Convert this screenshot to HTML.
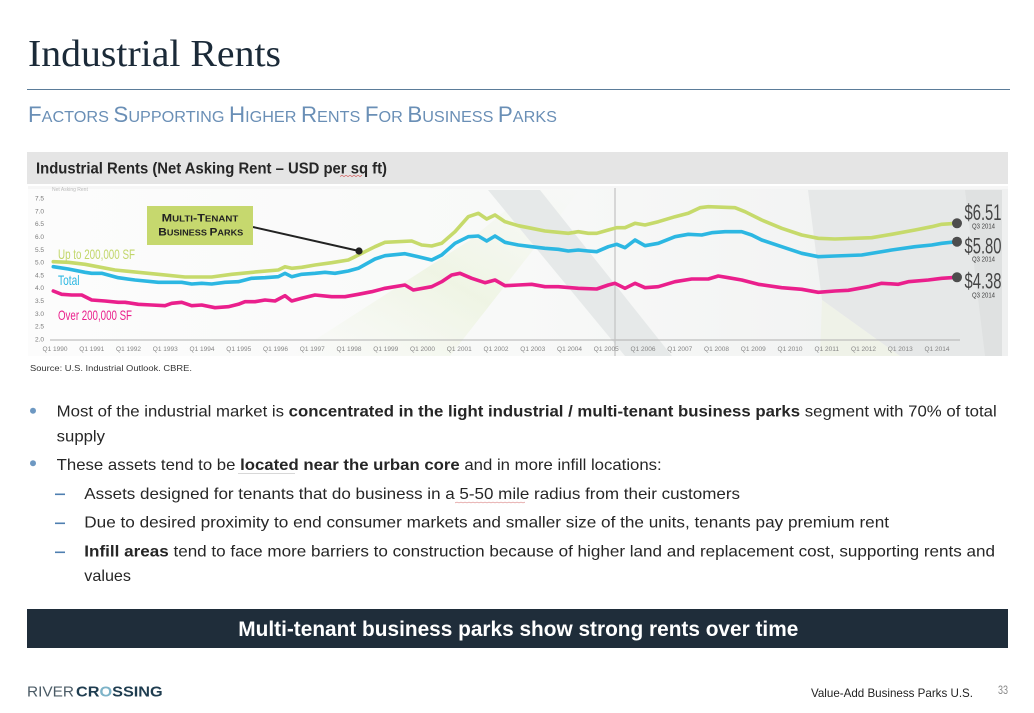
<!DOCTYPE html>
<html>
<head>
<meta charset="utf-8">
<style>
html,body{margin:0;padding:0;background:#fff;}
body{width:1034px;height:713px;overflow:hidden;}
svg{display:block;}
text{font-family:"Liberation Sans",sans-serif;}
.serif{font-family:"Liberation Serif",serif;}
.narrow{font-family:"Liberation Sans Narrow","Liberation Sans",sans-serif;}
</style>
</head>
<body>
<svg width="1034" height="713" viewBox="0 0 1034 713" xmlns="http://www.w3.org/2000/svg">
  <defs>
    <linearGradient id="bgL" x1="0" y1="0" x2="1" y2="0">
      <stop offset="0" stop-color="#fcfcfc"/>
      <stop offset="0.5" stop-color="#f8f9f8"/>
      <stop offset="1" stop-color="#eff0f0"/>
    </linearGradient>
    <linearGradient id="grn" x1="0" y1="1" x2="1" y2="0">
      <stop offset="0" stop-color="#f2f6ea" stop-opacity="0"/>
      <stop offset="0.5" stop-color="#eef4e2" stop-opacity="0.9"/>
      <stop offset="1" stop-color="#f2f6ea" stop-opacity="0"/>
    </linearGradient>
  </defs>

  <!-- Title -->
  <text class="serif" x="28" y="66" font-size="38" fill="#1b2a38" textLength="253" lengthAdjust="spacingAndGlyphs">Industrial Rents</text>
  <line x1="27" y1="89.5" x2="1010" y2="89.5" stroke="#5b7c99" stroke-width="1"/>

  <!-- Subtitle small caps -->
  <text x="28" y="122" fill="#6a8fb6" textLength="529" lengthAdjust="spacingAndGlyphs"><tspan font-size="22">F</tspan><tspan font-size="16">ACTORS </tspan><tspan font-size="22">S</tspan><tspan font-size="16">UPPORTING </tspan><tspan font-size="22">H</tspan><tspan font-size="16">IGHER </tspan><tspan font-size="22">R</tspan><tspan font-size="16">ENTS </tspan><tspan font-size="22">F</tspan><tspan font-size="16">OR </tspan><tspan font-size="22">B</tspan><tspan font-size="16">USINESS </tspan><tspan font-size="22">P</tspan><tspan font-size="16">ARKS</tspan></text>

  <!-- Grey header bar -->
  <rect x="27" y="152" width="981" height="32" fill="#e5e5e5"/>
  <text x="36" y="173.3" font-size="16" font-weight="bold" fill="#262626" textLength="351" lengthAdjust="spacingAndGlyphs">Industrial Rents (Net Asking Rent – USD per sq ft)</text>
  <path d="M340 176.5 l2 -1.2 l2 1.2 l2 -1.2 l2 1.2 l2 -1.2 l2 1.2 l2 -1.2 l2 1.2 l2 -1.2 l2 1.2 l2 -1.2" stroke="#d04040" stroke-width="0.6" fill="none"/>

  <!-- Chart background -->
  <rect x="28" y="186" width="980" height="170" fill="url(#bgL)"/>
  <polygon points="290,356 470,240 530,190 580,190 450,356" fill="url(#grn)"/>
  <polygon points="488,190 540,190 672,356 625,356" fill="#e6e9e9"/>
  <polygon points="808,190 1002,190 1002,356 900,356 822,300" fill="#e6e8e8"/>
  <polygon points="822,300 900,356 820,356" fill="#eff2e8"/>
  <polygon points="965,190 1002,190 1002,356 985,356" fill="#dfe1e1"/>
  <rect x="28" y="186" width="980" height="3" fill="#f6f6f6"/>

  <!-- faint cut title -->
  <text x="52" y="191" font-size="5" fill="#bbb">Net Asking Rent</text>

  <!-- Axis -->
  <line x1="50" y1="340" x2="960" y2="340" stroke="#b0b0b0" stroke-width="1"/>
  <line x1="615" y1="188" x2="615" y2="356" stroke="#c2c2c2" stroke-width="1.2"/>

  <!-- Y labels -->
  <g class="narrow" font-size="6.5" fill="#7a7a7a">
    <text x="35" y="200.5">7.5</text>
    <text x="35" y="213.3">7.0</text>
    <text x="35" y="226.1">6.5</text>
    <text x="35" y="238.9">6.0</text>
    <text x="35" y="251.8">5.5</text>
    <text x="35" y="264.6">5.0</text>
    <text x="35" y="277.4">4.5</text>
    <text x="35" y="290.2">4.0</text>
    <text x="35" y="303.0">3.5</text>
    <text x="35" y="315.8">3.0</text>
    <text x="35" y="328.7">2.5</text>
    <text x="35" y="341.5">2.0</text>
  </g>

  <!-- X labels -->
  <g class="narrow" font-size="6.5" fill="#858585" text-anchor="middle">
    <text x="55" y="351">Q1 1990</text>
    <text x="91.75" y="351">Q1 1991</text>
    <text x="128.5" y="351">Q1 1992</text>
    <text x="165.25" y="351">Q1 1993</text>
    <text x="202" y="351">Q1 1994</text>
    <text x="238.75" y="351">Q1 1995</text>
    <text x="275.5" y="351">Q1 1996</text>
    <text x="312.25" y="351">Q1 1997</text>
    <text x="349" y="351">Q1 1998</text>
    <text x="385.75" y="351">Q1 1999</text>
    <text x="422.5" y="351">Q1 2000</text>
    <text x="459.25" y="351">Q1 2001</text>
    <text x="496" y="351">Q1 2002</text>
    <text x="532.75" y="351">Q1 2003</text>
    <text x="569.5" y="351">Q1 2004</text>
    <text x="606.25" y="351">Q1 2005</text>
    <text x="643" y="351">Q1 2006</text>
    <text x="679.75" y="351">Q1 2007</text>
    <text x="716.5" y="351">Q1 2008</text>
    <text x="753.25" y="351">Q1 2009</text>
    <text x="790" y="351">Q1 2010</text>
    <text x="826.75" y="351">Q1 2011</text>
    <text x="863.5" y="351">Q1 2012</text>
    <text x="900.25" y="351">Q1 2013</text>
    <text x="937" y="351">Q1 2014</text>
  </g>

  <!-- Series -->
  <g fill="none" stroke-width="3.6" stroke-linejoin="round" stroke-linecap="round">
    <polyline stroke="#c6da6b" points="53.3,261.7 68.3,262.3 85,264.3 115,270 158.3,274.3 185,277 211.7,277 231.7,274.3 258.3,271.7 278.3,270 285,266.7 291.7,268.3 301.7,267.3 315,265 331.7,262.7 348.3,260 355,256.7 358.3,255 375,246.7 385,242.3 411.7,241 421.7,245 431.7,246 441.7,243.3 455,231.7 468.3,216.7 478.3,213.3 486.7,219 495,215 505,221.7 518.3,225.7 531.7,228.3 545,231 558.3,232.3 568.3,233.3 578.3,231.7 588.3,233.3 596.7,233.3 608.3,230 616.7,227.7 625,227.7 635,223.3 645,225 658.3,221.7 675,216.7 688.3,213.3 700,207.7 708.3,206.7 735,207.7 745,211.7 761.7,220 781.7,228.3 801.7,235 818.3,238.3 835,239 871.7,237.7 891.7,234.3 915,230 931.7,226.7 941.7,224.3 956.7,223.3"/>
    <polyline stroke="#2cb7e2" points="53.3,266.7 68.3,269 85,272.3 91.7,273.3 101.7,273.3 118.3,277.7 135,280 158.3,282.3 181.7,282.3 191.7,284 201.7,283.3 211.7,284 225,282.3 238.3,281.7 251.7,278.3 265,277.7 278.3,276.7 285,273.3 291.7,276.7 301.7,274.3 315,273.3 325,272.3 335,273.3 348.3,271 358.3,268.3 375,259 385,255.7 405,253.7 418.3,256.7 431.7,260 441.7,255 455,243.3 468.3,236.7 478.3,236 486.7,241 495,236 505,242.3 518.3,245 531.7,246.7 545,248.3 558.3,249.3 568.3,251 578.3,250 588.3,251 596.7,251.7 608.3,246.7 616.7,244.3 625,247.7 635,240 645,245.7 658.3,243.3 675,236.7 688.3,234.3 701.7,235 711.7,232.7 725,231.7 741.7,231.7 751.7,235 761.7,240 781.7,246.7 801.7,253.3 818.3,256.7 835,256 861.7,255 891.7,250 915,246.7 931.7,245 941.7,243.3 956.7,241.7"/>
    <polyline stroke="#ea1f8c" points="53.3,291 61.7,294.3 71.7,295 81.7,295 91.7,300 105,301 118.3,302.3 125,302.3 138.3,304.3 151.7,305 165,305.7 171.7,303.3 181.7,302.3 191.7,305.7 201.7,305 215,307.7 228.3,306.7 238.3,304.3 245,301.7 255,301.7 265,300 275,301 285,295.7 291.7,301 301.7,298.3 315,295 331.7,296.7 345,296.7 358.3,294.3 371.7,291.7 385,288.3 405,285 413.3,290 431.7,286.7 441.7,281.7 451.7,275 460,273.3 471.7,278.3 485,282.7 495,280 505,285.7 518.3,285 531.7,284.3 545,286.7 558.3,286.7 578.3,288.3 596.7,289 608.3,285 615,283.3 625,288.3 635,283.3 645,287.7 658.3,286.7 675,281.7 691.7,279 708.3,279 718.3,276 728.3,277.7 741.7,280 758.3,284.3 781.7,287.7 801.7,289.3 818.3,292.3 835,291 848.3,290.3 868.3,286.7 881.7,283.3 898.3,284.3 908.3,281.7 928.3,280 941.7,278.3 956.7,277.3"/>
  </g>

  <!-- Series labels -->
  <text class="narrow" x="58" y="259" font-size="14" fill="#c2d66a" textLength="77" lengthAdjust="spacingAndGlyphs">Up to 200,000 SF</text>
  <text class="narrow" x="58" y="285" font-size="14" fill="#2cb7e2" textLength="21.5" lengthAdjust="spacingAndGlyphs">Total</text>
  <text class="narrow" x="58" y="320" font-size="14" fill="#ea1f8c" textLength="74" lengthAdjust="spacingAndGlyphs">Over 200,000 SF</text>

  <!-- Callout -->
  <line x1="253" y1="227" x2="359" y2="251" stroke="#222" stroke-width="2"/>
  <circle cx="359" cy="251" r="3.6" fill="#222"/>
  <rect x="147" y="206" width="106" height="39" fill="#c6d86e"/>
  <text x="161.7" y="221.7" font-weight="bold" fill="#222" textLength="76.6" lengthAdjust="spacingAndGlyphs"><tspan font-size="11">M</tspan><tspan font-size="8.5">ULTI</tspan><tspan font-size="11">-T</tspan><tspan font-size="8.5">ENANT</tspan></text>
  <text x="158.3" y="235.7" font-weight="bold" fill="#222" textLength="85" lengthAdjust="spacingAndGlyphs"><tspan font-size="11">B</tspan><tspan font-size="8.5">USINESS </tspan><tspan font-size="11">P</tspan><tspan font-size="8.5">ARKS</tspan></text>

  <!-- End dots and values -->
  <circle cx="957" cy="223.3" r="5" fill="#4d4d4d"/>
  <circle cx="957" cy="241.7" r="5" fill="#4d4d4d"/>
  <circle cx="957" cy="277.3" r="5" fill="#4d4d4d"/>
  <g class="narrow" fill="#444">
    <text x="964.5" y="220" font-size="22" textLength="37" lengthAdjust="spacingAndGlyphs">$6.51</text>
    <text x="972" y="228.5" font-size="7" textLength="23" lengthAdjust="spacingAndGlyphs">Q3 2014</text>
    <text x="964.5" y="253.5" font-size="22" textLength="37" lengthAdjust="spacingAndGlyphs">$5.80</text>
    <text x="972" y="261.5" font-size="7" textLength="23" lengthAdjust="spacingAndGlyphs">Q3 2014</text>
    <text x="964.5" y="288.5" font-size="22" textLength="37" lengthAdjust="spacingAndGlyphs">$4.38</text>
    <text x="972" y="297.5" font-size="7" textLength="23" lengthAdjust="spacingAndGlyphs">Q3 2014</text>
  </g>

  <!-- Source -->
  <text x="30" y="371" font-size="8" fill="#333" textLength="162" lengthAdjust="spacingAndGlyphs">Source: U.S. Industrial Outlook. CBRE.</text>

  <!-- Bullets -->
  <g fill="#262626" font-size="16">
    <circle cx="33" cy="410.7" r="3" fill="#6d98c2"/>
    <text x="56.7" y="416.7" textLength="940" lengthAdjust="spacingAndGlyphs">Most of the industrial market is <tspan font-weight="bold">concentrated in the light industrial / multi-tenant business parks</tspan> segment with 70% of total</text>
    <text x="56.7" y="441.7" textLength="48.3" lengthAdjust="spacingAndGlyphs">supply</text>

    <circle cx="33" cy="463.3" r="3" fill="#6d98c2"/>
    <text x="56.7" y="470" textLength="605" lengthAdjust="spacingAndGlyphs">These assets tend to be <tspan font-weight="bold">located near the urban core</tspan> and in more infill locations:</text>
    <line x1="238.5" y1="473.5" x2="295" y2="473.5" stroke="#999" stroke-width="0.7" stroke-dasharray="1,1"/>

    <line x1="55" y1="494.3" x2="65" y2="494.3" stroke="#4e7fb0" stroke-width="1.6"/>
    <text x="84.3" y="499" textLength="655.7" lengthAdjust="spacingAndGlyphs">Assets designed for tenants that do business in a 5-50 mile radius from their customers</text>
    <path d="M455 503 l2 -1 l2 1 l2 -1 l2 1 l2 -1 l2 1 l2 -1 l2 1 l2 -1 l2 1 l2 -1 l2 1 l2 -1 l2 1 l2 -1 l2 1 l2 -1 l2 1 l2 -1 l2 1 l2 -1 l2 1 l2 -1 l2 1 l2 -1 l2 1 l2 -1 l2 1 l2 -1 l2 1 l2 -1 l2 1 l2 -1 l2 1 l2 -1" stroke="#d06060" stroke-width="0.5" fill="none"/>

    <line x1="55" y1="523.3" x2="65" y2="523.3" stroke="#4e7fb0" stroke-width="1.6"/>
    <text x="84.3" y="527.7" textLength="804.7" lengthAdjust="spacingAndGlyphs">Due to desired proximity to end consumer markets and smaller size of the units, tenants pay premium rent</text>

    <line x1="55" y1="552.3" x2="65" y2="552.3" stroke="#4e7fb0" stroke-width="1.6"/>
    <text x="84.3" y="556.7" textLength="910.7" lengthAdjust="spacingAndGlyphs"><tspan font-weight="bold">Infill areas</tspan> tend to face more barriers to construction because of higher land and replacement cost, supporting rents and</text>
    <text x="84.3" y="581" textLength="46.7" lengthAdjust="spacingAndGlyphs">values</text>
  </g>

  <!-- Dark banner -->
  <rect x="27" y="609" width="981" height="39" fill="#1f2d3a"/>
  <text x="238.3" y="636" font-size="21" font-weight="bold" fill="#ffffff" textLength="560" lengthAdjust="spacingAndGlyphs">Multi-tenant business parks show strong rents over time</text>

  <!-- Footer -->
  <text x="27" y="696.7" font-size="15" fill="#4b5b66" textLength="47" lengthAdjust="spacingAndGlyphs">RIVER</text>
  <text x="76" y="696.7" font-size="15" font-weight="bold" fill="#1f3d50" textLength="86.7" lengthAdjust="spacingAndGlyphs">CR<tspan fill="#7db3c8">O</tspan>SSING</text>
  <text class="narrow" x="811" y="697" font-size="12" fill="#222" textLength="162" lengthAdjust="spacingAndGlyphs">Value-Add Business Parks U.S.</text>
  <text class="narrow" x="998" y="694" font-size="12" fill="#888" textLength="10" lengthAdjust="spacingAndGlyphs">33</text>
</svg>
</body>
</html>
